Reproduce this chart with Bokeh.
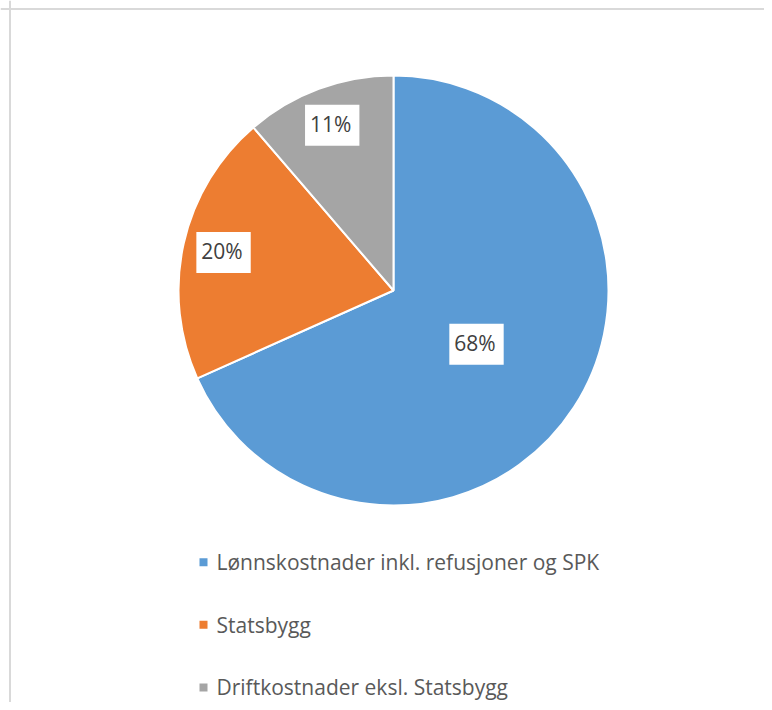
import math
from bokeh.plotting import figure
from bokeh.models import Range1d, ColumnDataSource, Span
from bokeh.core.properties import value
from bokeh.embed import file_html
from bokeh.resources import INLINE

# ---- data ----
categories = ["Lønnskostnader inkl. refusjoner og SPK", "Statsbygg", "Driftkostnader eksl. Statsbygg"]
shares = [68.3, 20.4, 11.3]
colors = ["#5B9BD5", "#ED7D31", "#A5A5A5"]

# ---- layout (figure pixels mapped 1:1 to data units, y up) ----
W, H = 764, 702
cx, cy, R = 393, H - 290, 215
label_frac = [0.46, 0.81, 0.82]
leg_x, leg_y0, leg_pitch = 203, H - 561.7, 62.6

p = figure(width=W, height=H, output_backend="svg", toolbar_location=None,
           x_range=Range1d(0, W), y_range=Range1d(0, H),
           min_border_left=0, min_border_top=0, min_border_right=0, min_border_bottom=0)
p.border_fill_color = "white"
p.background_fill_color = "white"
p.outline_line_color = None
p.xaxis.visible = False
p.yaxis.visible = False
p.grid.visible = False

# chart-area border (left and top edges visible in the crop)
p.add_layout(Span(location=9.5, dimension="height", line_color="#d9d9d9", line_width=2))
p.add_layout(Span(location=H - 8.5, dimension="width", line_color="#d9d9d9", line_width=2))

total = sum(shares)
starts, ends, lx, ly, labels = [], [], [], [], []
cum = 0.0
for i, s in enumerate(shares):
    a0 = math.pi / 2 - 2 * math.pi * cum / total
    cum += s
    a1 = math.pi / 2 - 2 * math.pi * cum / total
    starts.append(a0)
    ends.append(a1)
    mid = (a0 + a1) / 2
    lx.append(cx + label_frac[i] * R * math.cos(mid))
    ly.append(cy + label_frac[i] * R * math.sin(mid))
    labels.append(f"{round(s)}%")

src = ColumnDataSource(dict(start=starts, end=ends, color=colors, cat=categories,
                            lx=lx, ly=ly, label=labels))

p.wedge(x=cx, y=cy, radius=R, start_angle="start", end_angle="end", direction="clock",
        fill_color="color", line_color="white", line_width=2, source=src)

p.text(x="lx", y="ly", text="label", source=src,
       text_font=value("Open Sans"), text_font_size="21px", text_color="#404040",
       text_align="center", text_baseline="middle",
       background_fill_color="white", padding=[5, 8, 5, 8])

# ---- legend ----
leg_ys = [leg_y0 - i * leg_pitch for i in range(len(categories))]
leg_src = ColumnDataSource(dict(x=[leg_x] * len(categories), y=leg_ys, color=colors,
                                tx=[leg_x + 13] * len(categories), cat=categories))
p.scatter(x="x", y="y", marker="square", size=8, fill_color="color", line_color=None, source=leg_src)
p.text(x="tx", y="y", text="cat", source=leg_src,
       text_font=value("Open Sans"), text_font_size="21px", text_color="#595959",
       text_align="left", text_baseline="middle")

open("out.html", "w").write(file_html(p, INLINE))
